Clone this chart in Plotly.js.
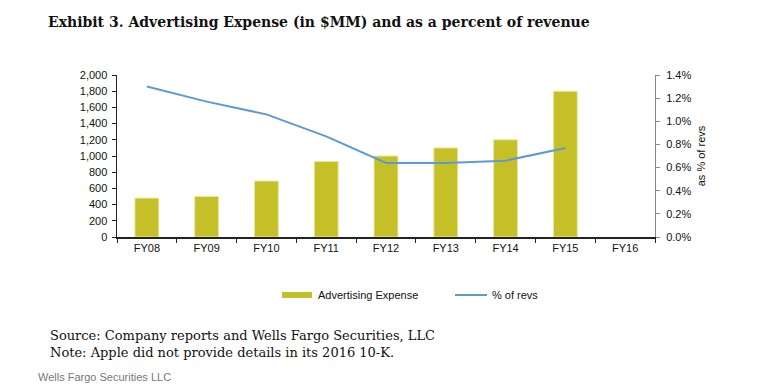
<!DOCTYPE html>
<html>
<head>
<meta charset="utf-8">
<script src="https://cdn.plot.ly/plotly-3.0.1.min.js"></script>
<style>html,body{margin:0;padding:0;background:#fff;}#chart{width:760px;height:391px;}</style>
</head>
<body>
<div id="chart"></div>
<script>
const categories = ['FY08','FY09','FY10','FY11','FY12','FY13','FY14','FY15','FY16'];
const adExpense = [480, 500, 691, 933, 1000, 1100, 1200, 1800, null];
const pctRevs = [1.30, 1.17, 1.06, 0.87, 0.64, 0.64, 0.66, 0.77, null];
const leftTicks = [0,200,400,600,800,1000,1200,1400,1600,1800,2000];
const rightTicks = [0,0.2,0.4,0.6,0.8,1.0,1.2,1.4];
const rightTickLabels = ['0.0%','0.2%','0.4%','0.6%','0.8%','1.0%','1.2%','1.4%'];

const barColor = '#c5c027';
const lineColor = '#5b9bd5';

// plot area pixel geometry helpers (for legend/notes placed in paper coords)
const L = 117, R = 655, T = 75, B = 237;
const px = x => (x - L) / (R - L);
const py = y => (B - y) / (B - T);

const traces = [
  {
    type: 'bar', x: categories, y: adExpense, name: 'Advertising Expense',
    marker: {color: barColor, line: {color: '#e9e7a6', width: 1}},
    showlegend: false, hoverinfo: 'x+y'
  },
  {
    type: 'scatter', mode: 'lines', x: categories, y: pctRevs, yaxis: 'y2',
    name: '% of revs', line: {color: lineColor, width: 2},
    showlegend: false, connectgaps: false
  }
];

const tickFont = {family: 'Liberation Sans, Arial, sans-serif', size: 11, color: '#111'};

const layout = {
  width: 760, height: 391,
  margin: {l: L, r: 760 - R, t: T, b: 391 - B},
  paper_bgcolor: '#fff', plot_bgcolor: '#fff',
  bargap: 0.6,
  title: {
    text: 'Exhibit 3. Advertising Expense (in $MM) and as a percent of revenue',
    font: {family: 'DejaVu Serif, serif', size: 14, color: '#111', weight: 'bold'},
    x: 48/760, xref: 'container', xanchor: 'left',
    y: 1 - 22/391, yref: 'container', yanchor: 'middle'
  },
  xaxis: {
    type: 'category', range: [-0.5, 8.5], tickson: 'boundaries',
    ticks: 'outside', ticklen: 4, tickcolor: '#222', tickwidth: 1,
    showline: true, linecolor: '#222', linewidth: 1.5,
    showgrid: false, zeroline: false, tickfont: tickFont
  },
  yaxis: {
    range: [0, 2000], tickvals: leftTicks, tickformat: ',d',
    ticks: 'outside', ticklen: 4, tickcolor: '#222',
    showline: true, linecolor: '#222', linewidth: 1.5,
    showgrid: false, zeroline: false, tickfont: tickFont, ticklabelstandoff: 2
  },
  yaxis2: {
    overlaying: 'y', side: 'right', range: [0, 1.4],
    tickmode: 'array', tickvals: rightTicks, ticktext: rightTickLabels,
    ticks: 'outside', ticklen: 4, tickcolor: '#888',
    showline: true, linecolor: '#888', linewidth: 1,
    showgrid: false, zeroline: false, tickfont: tickFont, ticklabelstandoff: 4,
    title: {text: 'as % of revs', font: {family: 'Liberation Sans, Arial, sans-serif', size: 11, color: '#111'}, standoff: 6}
  },
  shapes: [
    {type: 'rect', xref: 'paper', yref: 'paper', x0: px(282), x1: px(312), y0: py(298), y1: py(292),
     fillcolor: barColor, line: {width: 0}},
    {type: 'line', xref: 'paper', yref: 'paper', x0: px(455), x1: px(487), y0: py(295), y1: py(295),
     line: {color: lineColor, width: 2}}
  ],
  annotations: [
    {text: 'Advertising Expense', xref: 'paper', yref: 'paper', x: px(316), y: py(295),
     xanchor: 'left', yanchor: 'middle', showarrow: false, font: tickFont},
    {text: '% of revs', xref: 'paper', yref: 'paper', x: px(490), y: py(295),
     xanchor: 'left', yanchor: 'middle', showarrow: false, font: tickFont},
    {text: 'Source: Company reports and Wells Fargo Securities, LLC<br>Note: Apple did not provide details in its 2016 10-K.',
     xref: 'paper', yref: 'paper', x: px(48), y: py(326), xanchor: 'left', yanchor: 'top', align: 'left',
     showarrow: false, font: {family: 'DejaVu Serif, serif', size: 13, color: '#111'}},
    {text: 'Wells Fargo Securities LLC', xref: 'paper', yref: 'paper', x: px(36), y: py(377),
     xanchor: 'left', yanchor: 'middle', showarrow: false,
     font: {family: 'Liberation Sans, Arial, sans-serif', size: 11, color: '#777'}}
  ]
};

Plotly.newPlot('chart', traces, layout, {displayModeBar: false, staticPlot: true});
</script>
</body>
</html>
